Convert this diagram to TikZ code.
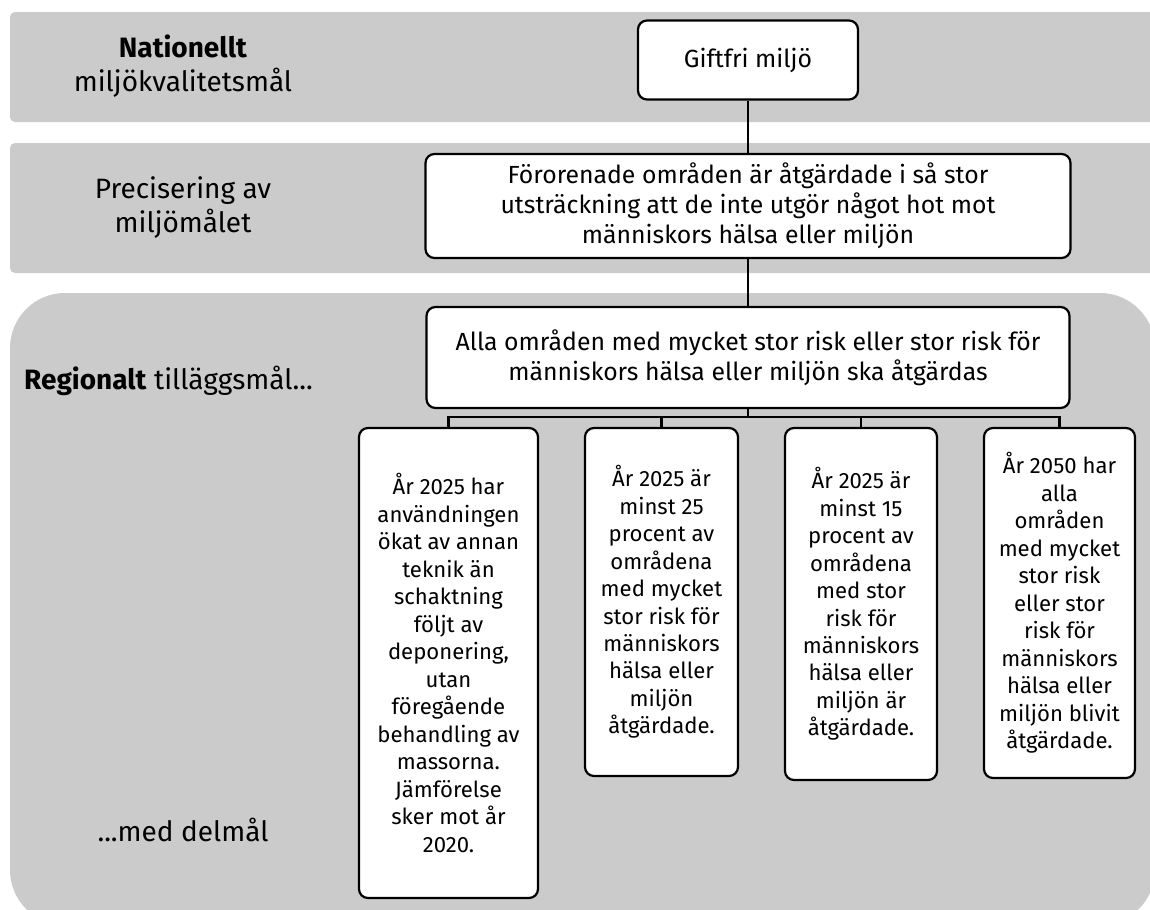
\documentclass[tikz,border=0pt]{standalone}
\usepackage{fontspec}
\setmainfont{Fira Sans}
\usetikzlibrary{positioning}
\newlength{\px}\setlength{\px}{0.75pt}
\definecolor{bandgray}{RGB}{203,203,203}
\tikzset{
  band/.style={fill=bandgray, rounded corners=5\px},
  goal/.style={draw, line width=2.2\px, fill=white, rounded corners=9\px, align=center, inner sep=0pt, font=\fontsize{18.6pt}{22.5pt}\selectfont},
  subgoal/.style={goal, font=\fontsize{16.6pt}{20.6pt}\selectfont},
  level/.style={align=center, font=\fontsize{21pt}{25.5pt}\selectfont},
  link/.style={line width=2.2\px}
}
\begin{document}
\begin{tikzpicture}[x=\px, y=-\px]
\useasboundingbox (0,0) rectangle (1150,910);
\clip (0,0) rectangle (1150,910);

% bands
\fill[band] (10,12) rectangle (1165,122);
\fill[band] (10,143) rectangle (1165,273);
\fill[band, rounded corners=55\px] (10,293) rectangle (1155,925);

\node[level](nat) at (183,66.5) {\textbf{Nationellt}\\miljökvalitetsmål};
\node[level](precl) at (183,207.5) {Precisering av\\miljömålet};
\node[level](regl) at (168.5,381) {\textbf{Regionalt} tilläggsmål...};
\node[level](dell) at (183,830) {...med delmål};

\node[goal, minimum width=220\px, minimum height=79\px](gift) at (748,60) {Giftfri miljö};
\node[goal, minimum width=645\px, minimum height=104\px](prec) at (748,206) {Förorenade områden är åtgärdade i så stor\\utsträckning att de inte utgör något hot mot\\människors hälsa eller miljön};
\node[goal, minimum width=643\px, minimum height=101\px](reg) at (748,357.5) {Alla områden med mycket stor risk eller stor risk för\\människors hälsa eller miljön ska åtgärdas};

\node[subgoal, minimum width=179\px, minimum height=470\px](b1) at (448.5,663) {År 2025 har\\användningen\\ökat av annan\\teknik än\\schaktning\\följt av\\deponering,\\utan\\föregående\\behandling av\\massorna.\\Jämförelse\\sker mot år\\2020.};
\node[subgoal, minimum width=153\px, minimum height=348\px](b2) at (661.5,602) {År 2025 är\\minst 25\\procent av\\områdena\\med mycket\\stor risk för\\människors\\hälsa eller\\miljön\\åtgärdade.};
\node[subgoal, minimum width=152\px, minimum height=352\px](b3) at (861,604) {År 2025 är\\minst 15\\procent av\\områdena\\med stor\\risk för\\människors\\hälsa eller\\miljön är\\åtgärdade.};
\node[subgoal, minimum width=151\px, minimum height=350\px](b4) at (1059.5,603) {År 2050 har\\alla\\områden\\med mycket\\stor risk\\eller stor\\risk för\\människors\\hälsa eller\\miljön blivit\\åtgärdade.};

\draw[link] (gift.south) -- (gift.south |- prec.north);
\draw[link] (prec.south) -- (prec.south |- reg.north);
\coordinate (bus) at (748,417);
\draw[link] (reg.south) -- (bus);
\foreach \b in {b1,b2,b3,b4}
  \draw[link] (bus) -| (\b.north);
\end{tikzpicture}
\end{document}
